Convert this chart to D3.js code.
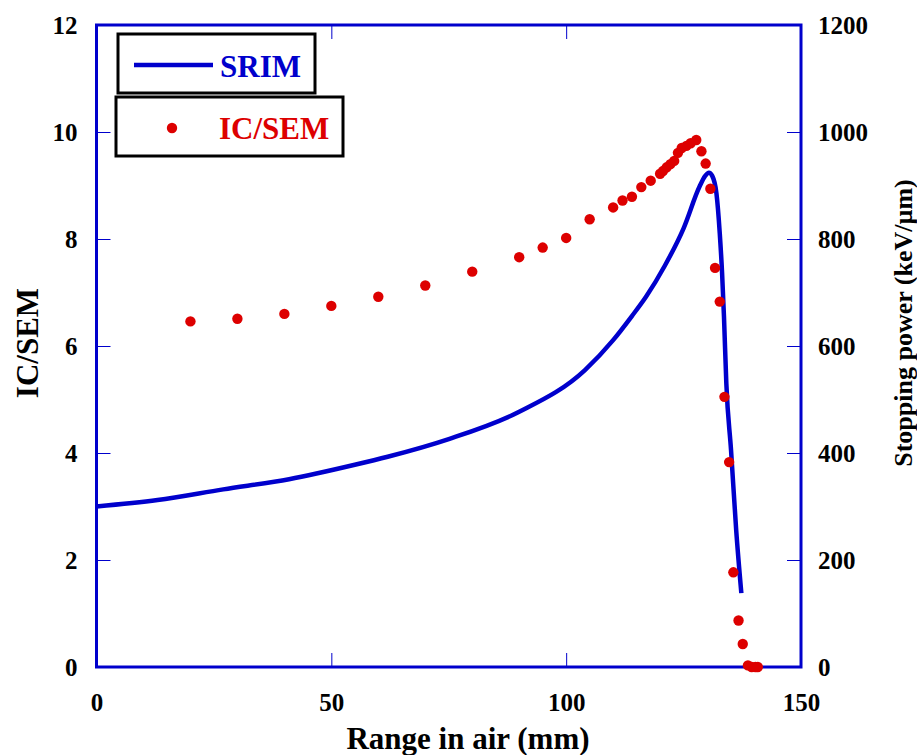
<!DOCTYPE html>
<html>
<head>
<meta charset="utf-8">
<script src="https://cdn.jsdelivr.net/npm/d3@7"></script>
<style>
  html, body { margin: 0; padding: 0; background: #fff; }
  svg { display: block; }
  text { font-family: "Liberation Serif", "Times New Roman", serif; font-weight: bold; }
</style>
</head>
<body>
<svg id="chart" width="917" height="755"></svg>
<script>
// Range in air (mm) and measured IC/SEM ratio
const icsemRange = [20, 30, 40, 50, 60, 70, 80, 90, 95, 100, 105, 110, 112, 114, 116, 118, 120,
  120.6, 121.4, 122.2, 123, 123.8, 124.6, 125.6, 126.5, 127.7, 128.8, 129.7, 130.7, 131.7,
  132.7, 133.7, 134.7, 135.6, 136.7, 137.6, 138.7, 139.5, 140.3, 140.8];
const icsemValue = [6.46, 6.51, 6.60, 6.75, 6.92, 7.13, 7.39, 7.66, 7.84, 8.02, 8.37, 8.59, 8.72, 8.79, 8.97, 9.09, 9.22,
  9.27, 9.34, 9.40, 9.46, 9.61, 9.70, 9.74, 9.79, 9.85, 9.64, 9.41, 8.94, 7.46,
  6.83, 5.05, 3.83, 1.77, 0.87, 0.43, 0.03, 0.0, 0.0, 0.0];

// SRIM stopping power (keV/µm) along the range
const srimRange = [0, 13, 27, 41, 55, 62, 75, 90, 104, 110, 114, 117, 121, 125, 128.4, 129.6, 130.4, 131.1,
  132, 132.7, 133.2, 133.6, 134.1, 135.1, 136.2, 137.3];
const srimPower = [300, 312, 332, 351, 378, 393, 426, 477, 555, 611, 656, 692, 750, 820, 898, 918, 924, 918,
  885, 811, 736, 655, 530, 406, 256, 138];

// Axis ticks
const xTicks = [0, 50, 100, 150];
const yLeftTicks = [0, 2, 4, 6, 8, 10, 12];
const yRightTicks = [0, 200, 400, 600, 800, 1000, 1200];

const BLUE = "#0000cc";
const RED = "#dd0000";
const SERIF = "'Liberation Serif', 'Times New Roman', serif";

const svg = d3.select("#chart");
const L = 96.5, R = 801, T = 25, B = 667;

const x = d3.scaleLinear().domain([0, 150]).range([L, R]);
const yL = d3.scaleLinear().domain([0, 12]).range([B, T]);
const yR = d3.scaleLinear().domain([0, 1200]).range([B, T]);

// Inward ticks on all four sides
const tickLen = 14;
function styleAxis(g) {
  g.attr("font-family", SERIF).attr("font-size", 25).attr("font-weight", "bold");
  g.select(".domain").remove();
  g.selectAll(".tick line").attr("stroke", BLUE).attr("stroke-width", 1);
  g.selectAll(".tick text").attr("fill", "#000")
    .style("font-size", "25px").style("font-family", SERIF).style("font-weight", "bold");
}

svg.append("g").attr("transform", `translate(0,${B})`)
  .call(d3.axisBottom(x).tickValues(xTicks).tickSizeInner(-tickLen).tickSizeOuter(0).tickPadding(26).tickFormat(d3.format("d")))
  .call(styleAxis);
svg.append("g").attr("transform", `translate(0,${T})`)
  .call(d3.axisTop(x).tickValues(xTicks).tickSizeInner(-tickLen).tickSizeOuter(0).tickFormat(""))
  .call(styleAxis);
svg.append("g").attr("transform", `translate(${L},0)`)
  .call(d3.axisLeft(yL).tickValues(yLeftTicks).tickSizeInner(-tickLen).tickSizeOuter(0).tickPadding(19).tickFormat(d3.format("d")))
  .call(styleAxis);
svg.append("g").attr("transform", `translate(${R},0)`)
  .call(d3.axisRight(yR).tickValues(yRightTicks).tickSizeInner(-tickLen).tickSizeOuter(0).tickPadding(17).tickFormat(d3.format("d")))
  .call(styleAxis);

// Plot frame
svg.append("rect").attr("x", L).attr("y", T).attr("width", R - L).attr("height", B - T)
  .attr("fill", "none").attr("stroke", BLUE).attr("stroke-width", 3);

// SRIM curve
const srim = srimRange.map((r, i) => ({ r, p: srimPower[i] }));
svg.append("path").datum(srim)
  .attr("fill", "none").attr("stroke", BLUE).attr("stroke-width", 4.5).attr("stroke-linejoin", "round")
  .attr("d", d3.line().x(d => x(d.r)).y(d => yR(d.p)).curve(d3.curveMonotoneX));

// IC/SEM points
const icsem = icsemRange.map((r, i) => ({ r, v: icsemValue[i] }));
svg.append("g").selectAll("circle").data(icsem).join("circle")
  .attr("cx", d => x(d.r)).attr("cy", d => yL(d.v)).attr("r", 5.2).attr("fill", RED);

// Axis titles
svg.append("text").attr("x", 468).attr("y", 749).attr("text-anchor", "middle")
  .style("font-size", "31px").attr("fill", "#000").text("Range in air (mm)");
svg.append("text").attr("transform", `translate(38,343) rotate(-90)`).attr("text-anchor", "middle")
  .style("font-size", "31px").attr("fill", "#000").text("IC/SEM");
svg.append("text").attr("transform", `translate(912,323) rotate(-90)`).attr("text-anchor", "middle")
  .style("font-size", "26px").attr("fill", "#000").text("Stopping power (keV/µm)");

// Legend boxes
const lg = svg.append("g");
lg.append("rect").attr("x", 118).attr("y", 34).attr("width", 197).attr("height", 59)
  .attr("fill", "#fff").attr("stroke", "#000").attr("stroke-width", 3);
lg.append("line").attr("x1", 134).attr("x2", 213).attr("y1", 65).attr("y2", 65)
  .attr("stroke", BLUE).attr("stroke-width", 4.5);
lg.append("text").attr("x", 220).attr("y", 77).style("font-size", "31px").attr("fill", BLUE).text("SRIM");

lg.append("rect").attr("x", 116).attr("y", 97).attr("width", 227).attr("height", 59)
  .attr("fill", "#fff").attr("stroke", "#000").attr("stroke-width", 3);
lg.append("circle").attr("cx", 172).attr("cy", 128).attr("r", 5.2).attr("fill", RED);
lg.append("text").attr("x", 219).attr("y", 139).style("font-size", "31px").attr("fill", RED).text("IC/SEM");
</script>
</body>
</html>
